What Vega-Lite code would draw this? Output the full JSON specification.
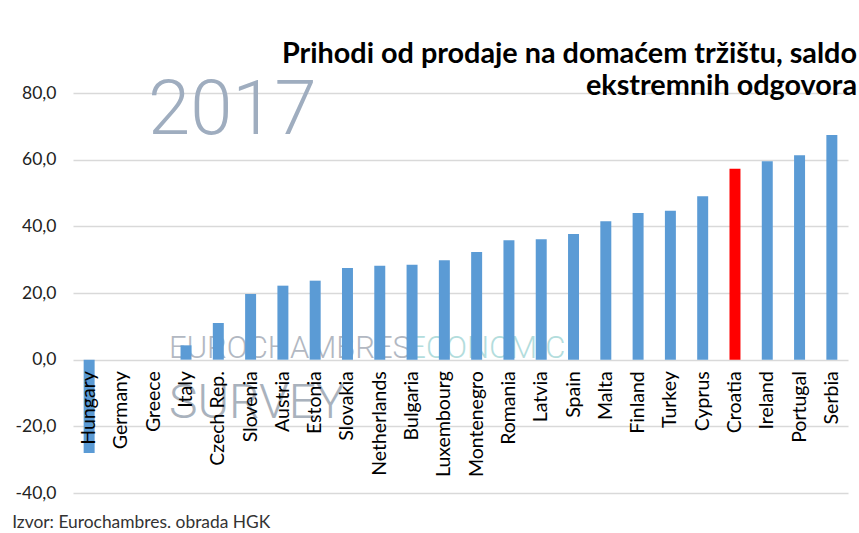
{
  "$schema": "https://vega.github.io/schema/vega-lite/v6.json",
  "width": 775,
  "height": 400,
  "autosize": {"type": "none"},
  "padding": {"left": 73, "top": 93, "right": 11, "bottom": 40},
  "background": "white",
  "config": {
    "locale": {"number": {"decimal": ",", "thousands": ".", "grouping": [3], "currency": ["", " €"], "minus": "-"}},
    "view": {"stroke": null},
    "font": "Lato"
  },
  "title": {
    "text": ["Prihodi od prodaje na domaćem tržištu, saldo", "ekstremnih odgovora"],
    "anchor": "end",
    "frame": "group",
    "font": "Lato",
    "fontWeight": "bold",
    "fontSize": 28.8,
    "lineHeight": 32,
    "color": "#000000",
    "offset": -28,
    "dx": 9
  },
  "data": {
    "values": [
      {"country": "Hungary", "value": -28.0},
      {"country": "Germany", "value": 0},
      {"country": "Greece", "value": 0},
      {"country": "Italy", "value": 4.3},
      {"country": "Czech Rep.", "value": 11.0},
      {"country": "Slovenia", "value": 19.7},
      {"country": "Austria", "value": 22.2},
      {"country": "Estonia", "value": 23.7},
      {"country": "Slovakia", "value": 27.5},
      {"country": "Netherlands", "value": 28.2},
      {"country": "Bulgaria", "value": 28.5},
      {"country": "Luxembourg", "value": 29.8},
      {"country": "Montenegro", "value": 32.3},
      {"country": "Romania", "value": 35.8},
      {"country": "Latvia", "value": 36.1},
      {"country": "Spain", "value": 37.7},
      {"country": "Malta", "value": 41.5},
      {"country": "Finland", "value": 44.0},
      {"country": "Turkey", "value": 44.7},
      {"country": "Cyprus", "value": 49.0},
      {"country": "Croatia", "value": 57.3},
      {"country": "Ireland", "value": 59.5},
      {"country": "Portugal", "value": 61.3},
      {"country": "Serbia", "value": 67.4}
    ]
  },
  "layer": [
    {
      "data": {"values": [{}]},
      "mark": {"type": "text", "text": "2017", "font": "Roboto", "fontWeight": 300, "fontSize": 76, "color": "#9fadbf", "align": "center", "baseline": "alphabetic", "dx": 14},
      "encoding": {
        "x": {"datum": "Czech Rep.", "type": "nominal"},
        "y": {"datum": 67.7, "type": "quantitative"}
      }
    },
    {
      "data": {"values": [{}]},
      "mark": {"type": "text", "text": "EUROCHAMBRES", "font": "Roboto", "fontWeight": 300, "fontSize": 31, "color": "#b2b8c2", "align": "left", "baseline": "alphabetic", "dx": -17},
      "encoding": {
        "x": {"datum": "Italy", "type": "nominal"},
        "y": {"datum": 0.4, "type": "quantitative"}
      }
    },
    {
      "data": {"values": [{}]},
      "mark": {"type": "text", "text": "ECONOMIC", "font": "Roboto", "fontWeight": 300, "fontSize": 31, "color": "#b3dddd", "align": "left", "baseline": "alphabetic", "dx": -36},
      "encoding": {
        "x": {"datum": "Luxembourg", "type": "nominal"},
        "y": {"datum": 0.4, "type": "quantitative"}
      }
    },
    {
      "data": {"values": [{}]},
      "mark": {"type": "text", "text": "SURVEY", "font": "Roboto", "fontWeight": 300, "fontSize": 48, "color": "#a9b2bd", "align": "left", "baseline": "alphabetic", "dx": -17},
      "encoding": {
        "x": {"datum": "Italy", "type": "nominal"},
        "y": {"datum": -17.4, "type": "quantitative"}
      }
    },
    {
      "mark": {"type": "bar"},
      "encoding": {
        "x": {
          "field": "country",
          "type": "nominal",
          "sort": null,
          "scale": {
            "domain": ["Hungary", "Germany", "Greece", "Italy", "Czech Rep.", "Slovenia", "Austria", "Estonia", "Slovakia", "Netherlands", "Bulgaria", "Luxembourg", "Montenegro", "Romania", "Latvia", "Spain", "Malta", "Finland", "Turkey", "Cyprus", "Croatia", "Ireland", "Portugal", "Serbia"],
            "paddingInner": 0.66,
            "paddingOuter": 0.33
          },
          "axis": {
            "title": null,
            "orient": "bottom",
            "offset": -133.3,
            "zindex": 2,
            "domain": false,
            "ticks": false,
            "labelAngle": 270,
            "labelAlign": "right",
            "labelBaseline": "middle",
            "labelPadding": 11,
            "labelFont": "Lato",
            "labelFontSize": 19.5,
            "labelColor": "#000000",
            "labelOverlap": false
          }
        },
        "y": {
          "field": "value",
          "type": "quantitative",
          "scale": {"domain": [-40, 80], "nice": false},
          "axis": {
            "title": null,
            "values": [-40, -20, 0, 20, 40, 60, 80],
            "format": ".1f",
            "domain": false,
            "ticks": false,
            "grid": true,
            "gridColor": "#d9d9d9",
            "gridWidth": 1.5,
            "labelPadding": 17,
            "labelFont": "Lato",
            "labelFontSize": 17.5,
            "labelColor": "#222222"
          }
        },
        "color": {
          "condition": {"test": "datum.country === 'Croatia'", "value": "#ff0000"},
          "value": "#5b9bd5"
        }
      }
    },
    {
      "data": {"values": [{}]},
      "mark": {"type": "text", "text": "Izvor: Eurochambres. obrada HGK", "font": "Lato", "fontSize": 17.4, "color": "#333333", "align": "left", "baseline": "alphabetic", "dx": -77, "dy": 35},
      "encoding": {
        "x": {"datum": "Hungary", "type": "nominal"},
        "y": {"datum": -40, "type": "quantitative"}
      }
    }
  ]
}
